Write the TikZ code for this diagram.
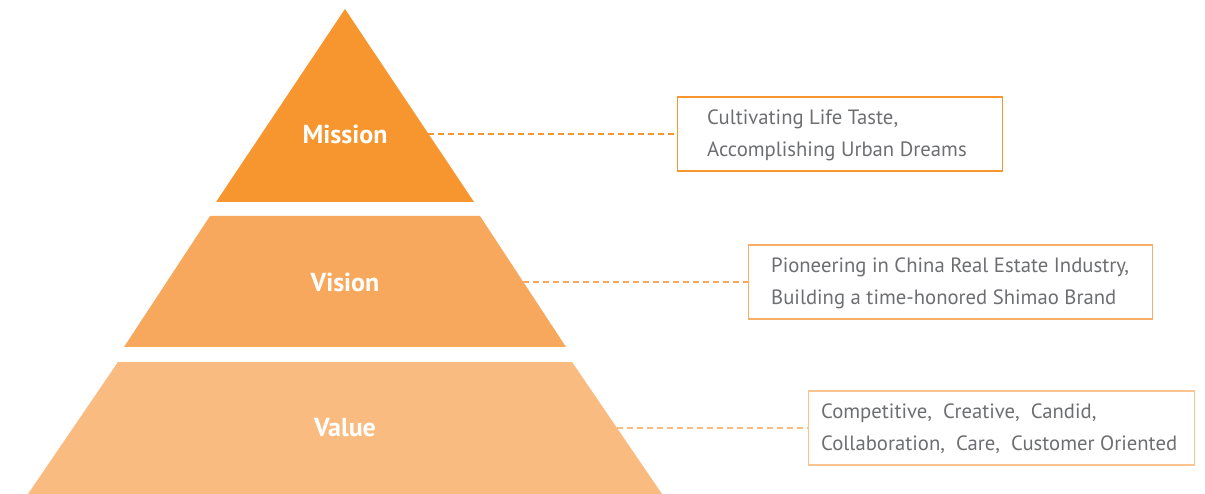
\documentclass[tikz,border=0pt]{standalone}
\usepackage{fontspec}
\setmainfont{PT Sans}
\definecolor{cMis}{HTML}{F7962F}
\definecolor{cVis}{HTML}{F8A85C}
\definecolor{cVal}{HTML}{FABB80}
\definecolor{cBoxVis}{HTML}{F9AE68}
\definecolor{cBoxVal}{HTML}{FBC390}
\definecolor{txt}{HTML}{6D6E71}
\tikzset{
  lvl/.style={font=\fontsize{26}{26}\selectfont\bfseries, text=white},
  infobox/.style={draw, line width=1.2pt, anchor=west, inner sep=0pt, minimum height=74pt},
  infotext/.style={anchor=west, align=left, text=txt, inner sep=0pt,
    font=\fontsize{20.7}{32}\selectfont},
  leader/.style={dashed, dash pattern=on 6pt off 4pt, line width=1.2pt}
}
\begin{document}
\begin{tikzpicture}[x=1pt,y=-1pt]
\useasboundingbox (0,0) rectangle (1205,494);
% pyramid layers
\fill[cMis] (345,9) -- (474,202) -- (216,202) -- cycle;
\fill[cVis] (210,216) -- (480,216) -- (566,347) -- (124,347) -- cycle;
\fill[cVal] (118,362) -- (572,362) -- (662,494) -- (28,494) -- cycle;
% labels
\node[lvl] (mis) at (345,134) {Mission};
\node[lvl] (vis) at (345,282) {Vision};
\node[lvl] (val) at (345,428) {Value};
% boxes
\node[infobox, draw=cMis, minimum width=325pt] (bmis) at (677,134) {};
\node[infobox, draw=cBoxVis, minimum width=404pt] (bvis) at (748,282) {};
\node[infobox, draw=cBoxVal, minimum width=386pt] (bval) at (808,428) {};
\node[infotext] (tmis) at ([xshift=30pt,yshift=-1pt]bmis.west)
  {Cultivating Life Taste,\\Accomplishing Urban Dreams};
\node[infotext] (tvis) at ([xshift=23pt,yshift=-1pt]bvis.west)
  {Pioneering in China Real Estate Industry,\\Building a time-honored Shimao Brand};
\node[infotext] (tval) at ([xshift=13pt,yshift=-1pt]bval.west)
  {Competitive,\ \ Creative,\ \ Candid,\\Collaboration,\ \ Care,\ \ Customer Oriented};
% leaders
\coordinate (emis) at (428,134);
\coordinate (evis) at (523,282);
\coordinate (eval) at (617,428);
\draw[leader, draw=cMis] (emis) -- (bmis.west);
\draw[leader, draw=cVis] (evis) -- (bvis.west);
\draw[leader, draw=cVal] (eval) -- (bval.west);
\end{tikzpicture}
\end{document}
